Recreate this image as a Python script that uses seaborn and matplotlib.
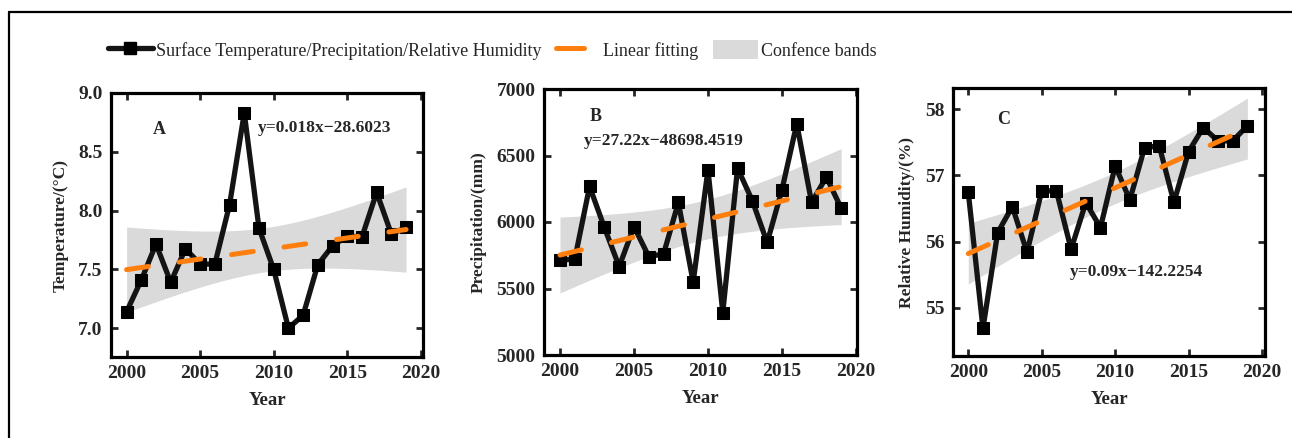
import numpy as np
import pandas as pd
import matplotlib
matplotlib.use("Agg")
import matplotlib.pyplot as plt
import seaborn as sns
from matplotlib.lines import Line2D
from matplotlib.patches import Patch

# ---------------- data ----------------
years = list(range(2000, 2020))
temperature = [7.14, 7.41, 7.715, 7.39, 7.675, 7.545, 7.545, 8.05, 8.83, 7.85,
               7.50, 7.00, 7.11, 7.54, 7.70, 7.785, 7.775, 8.155, 7.80, 7.857]
precipitation = [5715, 5720, 6267, 5959, 5665, 5966, 5740, 5760, 6147, 5547,
                 6393, 5319, 6405, 6159, 5846, 6242, 6739, 6147, 6338, 6104]
humidity = [56.745, 54.687, 56.134, 56.528, 55.837, 56.765, 56.765, 55.882, 56.588, 56.21,
            57.143, 56.629, 57.42, 57.445, 56.593, 57.36, 57.723, 57.52, 57.52, 57.748]

panel_letters = ["A", "B", "C"]
equations = ["y=0.018x\u221228.6023", "y=27.22x\u221248698.4519", "y=0.09x\u2212142.2254"]
y_labels = ["Temperature/(\u00b0C)", "Precipitation/(mm)", "Relative Humidity/(%)"]
x_label = "Year"
x_ticks = [2000, 2005, 2010, 2015, 2020]
y_ticks = [[7.0, 7.5, 8.0, 8.5, 9.0], [5000, 5500, 6000, 6500, 7000], [55, 56, 57, 58]]
y_tick_labels = [["7.0", "7.5", "8.0", "8.5", "9.0"],
                 ["5000", "5500", "6000", "6500", "7000"],
                 ["55", "56", "57", "58"]]
legend_labels = ["Surface Temperature/Precipitation/Relative Humidity",
                 "Linear fitting", "Confence bands"]

series = [temperature, precipitation, humidity]

# ---------------- style ----------------
sns.set_theme(style="ticks")
plt.rcParams["font.family"] = ["Liberation Serif", "DejaVu Serif"]
plt.rcParams["mathtext.fontset"] = "stix"

fig = plt.figure(figsize=(12.92, 4.38), dpi=100)
W, H = 1292, 438

def ax_rect(l, r, t, b):
    return [l / W, 1 - b / H, (r - l) / W, (b - t) / H]

rects = [ax_rect(111, 423, 93, 357), ax_rect(544, 857, 89, 355), ax_rect(953, 1265, 88, 356)]
xlims = [(1998.94, 2020.15), (1998.92, 2020.07), (1998.96, 2020.2)]
ylims = [(6.755, 9.0), (5000, 7000), (54.27, 58.32)]
letter_pos = [(2002.25, 8.69), (2002.4, 6794), (2002.4, 57.84)]
eq_pos = [(2008.9, 8.70, "left"), (2001.6, 6606, "left"), (2006.9, 55.54, "left")]

ORANGE = "#ff7f0e"
BAND = "#dadada"
TVAL = 2.101  # t(0.975, df=18)

for i in range(3):
    ax = fig.add_axes(rects[i])
    df = pd.DataFrame({"year": years, "value": series[i]})
    x = np.array(years, dtype=float)
    y = np.array(series[i], dtype=float)
    # linear fit and analytic 95% confidence band
    b1, b0 = np.polyfit(x, y, 1)
    yhat = b0 + b1 * x
    n = len(x)
    s = np.sqrt(np.sum((y - yhat) ** 2) / (n - 2))
    xx = np.linspace(x.min(), x.max(), 200)
    yy = b0 + b1 * xx
    se = s * np.sqrt(1 / n + (xx - x.mean()) ** 2 / np.sum((x - x.mean()) ** 2))
    ax.fill_between(xx, yy - TVAL * se, yy + TVAL * se, color=BAND, lw=0, zorder=1)

    sns.lineplot(data=df, x="year", y="value", ax=ax, color="#141414", lw=3.8,
                 marker="s", markersize=9, markeredgecolor="black",
                 markerfacecolor="black", zorder=3)
    ax.plot(xx, yy, color=ORANGE, lw=3.6, linestyle=(0, (4.4, 6.2)),
            dash_capstyle="round", zorder=4)

    ax.set_xlim(*xlims[i])
    ax.set_ylim(*ylims[i])
    ax.set_xticks(x_ticks)
    ax.set_xticklabels([str(t) for t in x_ticks])
    ax.set_yticks(y_ticks[i])
    ax.set_yticklabels(y_tick_labels[i])
    ax.tick_params(direction="in", length=5, width=2, top=True, right=True,
                   labelsize=14, pad=6)
    for lab in ax.get_xticklabels() + ax.get_yticklabels():
        lab.set_fontweight("bold")
    for sp in ax.spines.values():
        sp.set_linewidth(2.3)
        sp.set_color("black")
        sp.set_visible(True)
    ax.set_xlabel(x_label, fontsize=13.5, fontweight="bold", labelpad=7)
    ax.set_ylabel(y_labels[i], fontsize=12.5, fontweight="bold", labelpad=7)
    lx, ly = letter_pos[i]
    ax.text(lx, ly, panel_letters[i], fontsize=13, fontweight="bold",
            ha="center", va="center")
    ex, ey, ha = eq_pos[i]
    ax.text(ex, ey, equations[i], fontsize=12.5, fontweight="bold",
            ha=ha, va="center")

handles = [
    Line2D([], [], color="#141414", lw=3.8, marker="s", markersize=9,
           markerfacecolor="black", markeredgecolor="black"),
    Line2D([], [], color=ORANGE, lw=3.6, linestyle=(0, (5.6, 10)), dash_capstyle="round"),
    Patch(facecolor=BAND, edgecolor="none"),
]
fig.legend(handles, legend_labels, loc="center", bbox_to_anchor=(0.381, 1 - 50 / H),
           ncol=3, frameon=False, fontsize=13, handlelength=2.5, handletextpad=0.15,
           columnspacing=0.8, handleheight=1.2)

# partial outer frame (left and top edges)
fig.add_artist(Line2D([9 / W, 9 / W], [0, 1 - 12 / H], transform=fig.transFigure,
                      color="black", lw=1.6))
fig.add_artist(Line2D([9 / W, 1], [1 - 12 / H, 1 - 12 / H], transform=fig.transFigure,
                      color="black", lw=1.6))

fig.savefig("out.png", dpi=100)
